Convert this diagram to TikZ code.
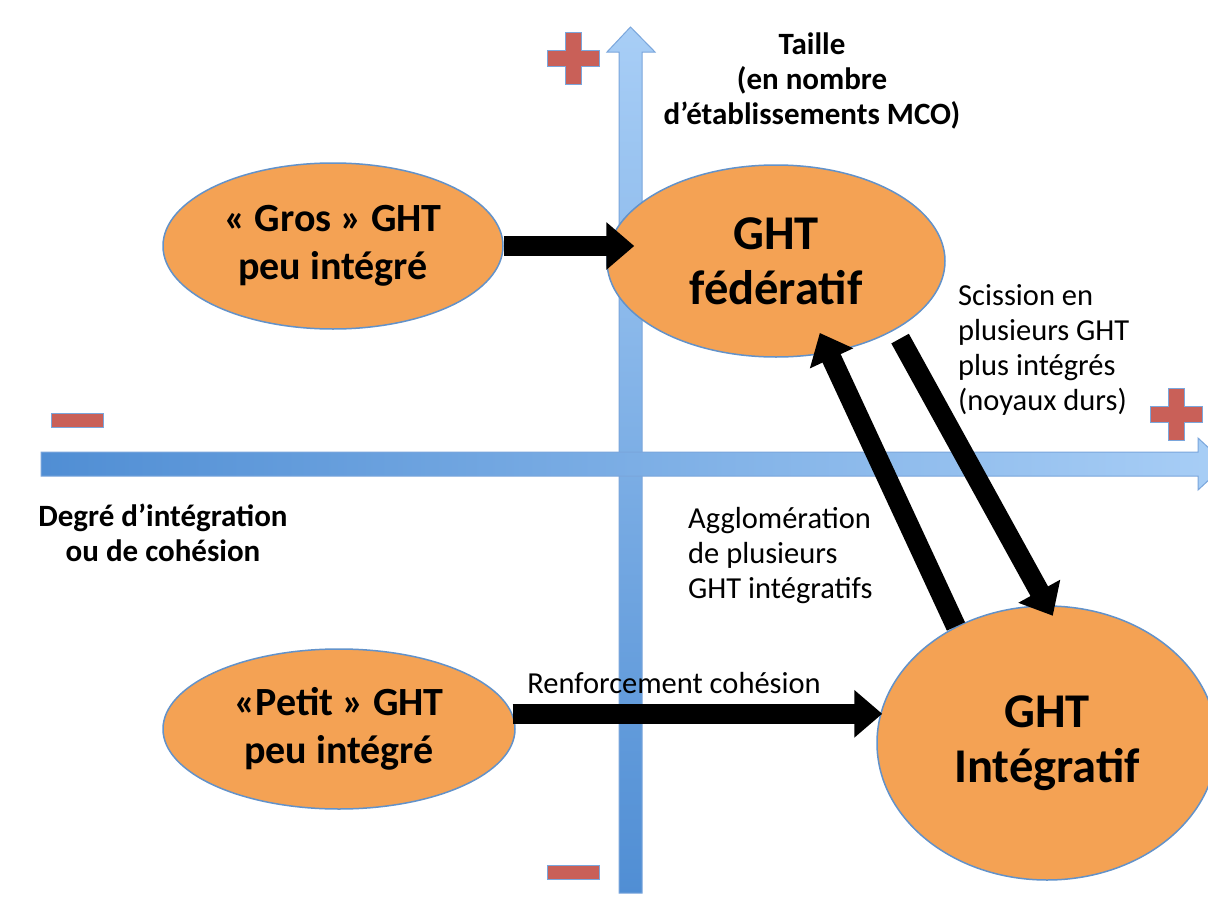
\documentclass[tikz,border=0pt]{standalone}
\usepackage{fontspec}
\setmainfont{Carlito}
\usepackage{tikz}
\usetikzlibrary{shapes.geometric, arrows.meta, calc}
\usepackage{xcolor}

\definecolor{axisdark}{RGB}{80,142,212}
\definecolor{axislight}{RGB}{168,206,246}
\definecolor{axisline}{RGB}{122,166,220}
\definecolor{signred}{RGB}{201,96,88}
\definecolor{bubble}{RGB}{244,162,84}
\definecolor{bubbleline}{RGB}{98,146,202}

\begin{document}
\begin{tikzpicture}[x=1pt, y=-1pt,
    ght/.style={ellipse, draw=bubbleline, line width=1.5pt, fill=bubble, inner sep=0pt, align=center, font=\fontsize{40}{48}\selectfont\bfseries},
    bigght/.style={ght, font=\fontsize{48.5}{55}\selectfont\bfseries},
    sign/.style={fill=signred, draw=axisline, line width=1pt},
    blk/.style={black, line width=20pt, -{Triangle[width=46pt, length=28pt]}},
    lbl/.style={align=left, inner sep=0pt, font=\fontsize{30.5}{35}\selectfont},
    axlbl/.style={align=center, inner sep=0pt, font=\fontsize{31}{35}\selectfont\bfseries}]

        % Canvas
        \path[fill=white, use as bounding box] (0,0) rectangle (1208,910);

        % Draw Axes
        \shade[bottom color=axisdark, top color=axislight, draw=axisline, line width=1pt]
            (619,893) -- (619,52) -- (607,52) -- (630.5,27) -- (655,52) -- (642,52) -- (642,893) -- cycle;
        \shade[left color=axisdark, right color=axislight, draw=axisline, line width=1pt]
            (41,452) -- (1198,452) -- (1198,438) -- (1226,464) -- (1198,490) -- (1198,476) -- (41,476) -- cycle;

        % Plus and Minus Signs
        \foreach \cx/\cy in {573/58, 1176/414}
            \draw[sign] (\cx-8,\cy-26) -- ++(16,0) -- ++(0,18) -- ++(18,0) -- ++(0,16) -- ++(-18,0)
                -- ++(0,18) -- ++(-16,0) -- ++(0,-18) -- ++(-18,0) -- ++(0,-16) -- ++(18,0) -- cycle;
        \foreach \cx/\cy in {77/420, 573/872}
            \draw[sign] (\cx-26,\cy-7) rectangle (\cx+26,\cy+7);

        % GHT Ellipses
        \node[ght, minimum width=340pt, minimum height=166pt] (gros) at (333,246) {« Gros » GHT\\peu intégré};
        \node[bigght, minimum width=338pt, minimum height=192pt] (fed) at (776,261) {GHT\\fédératif};
        \node[ght, minimum width=352pt, minimum height=160pt] (petit) at (339,729) {«Petit » GHT\\peu intégré};
        \node[bigght, minimum width=340pt, minimum height=274pt] (integ) at (1047,743) {GHT\\Intégratif};

        % Transition Arrows
        \draw[blk, shorten >=-28pt] (gros.east) -- (gros.east -| fed.west);
        \draw[blk, shorten >=-6pt] (petit.5) -- (petit.5 -| integ.west);
        \draw[blk, shorten >=-22pt] (integ.128) -- (fed.300);
        \draw[blk, shorten <=10pt, shorten >=-12pt] (fed.330) -- (integ.north);

        % Labels
        \node[axlbl] (size) at (812,81) {Taille\\(en nombre\\d’établissements MCO)};
        \node[axlbl] (degree) at (163,533) {Degré d’intégration\\ou de cohésion};
        \node[lbl, anchor=west] (split) at (958,350) {Scission en\\plusieurs GHT\\plus intégrés\\(noyaux durs)};
        \node[lbl, anchor=west] (merge) at (688,556) {Agglomération\\de plusieurs\\GHT intégratifs};
        \node[lbl] (boost) at (674,683) {Renforcement cohésion};

\end{tikzpicture}
\end{document}
